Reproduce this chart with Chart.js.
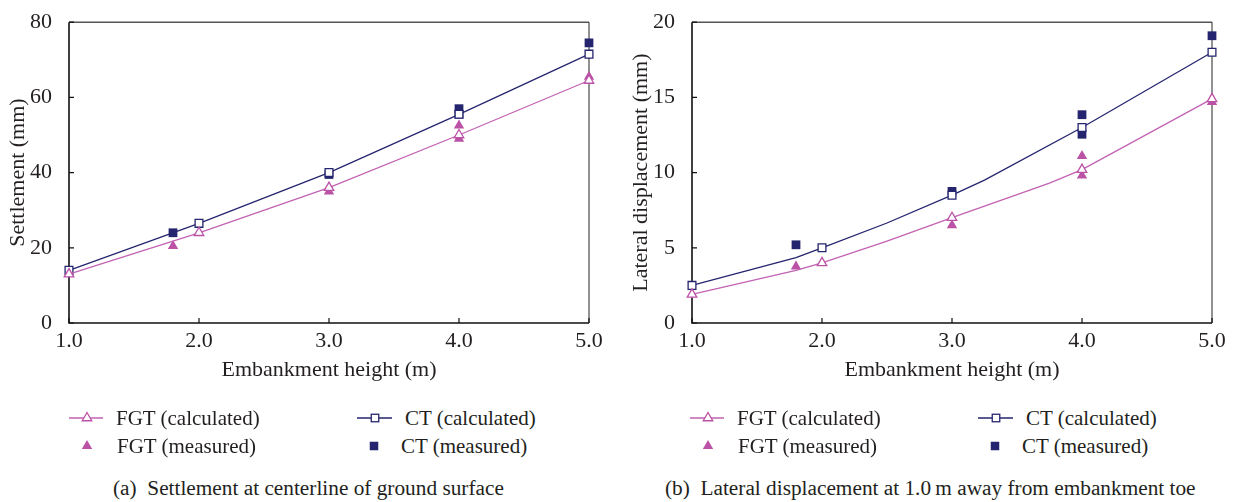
<!DOCTYPE html>
<html>
<head>
<meta charset="utf-8">
<script src="https://cdn.jsdelivr.net/npm/chart.js@4.4.1/dist/chart.umd.min.js"></script>
<style>
    body { margin: 0; background: #fff; width: 1236px; height: 502px; position: relative; overflow: hidden;
           font-family: "Liberation Serif", "Times New Roman", Tinos, "Noto Serif", "DejaVu Serif", serif; color: #231f20; }
    canvas { position: absolute; top: 0; }
    .lg { position: absolute; font-size: 21px; line-height: 24px; white-space: nowrap; }
    .cap { position: absolute; font-size: 21.3px; line-height: 24px; white-space: nowrap; }
    svg { position: absolute; overflow: visible; }
</style>
</head>
<body>
<canvas id="chartA" width="618" height="395" style="left:0"></canvas>
<canvas id="chartB" width="618" height="395" style="left:618px"></canvas>

<script>
// Embankment heights with calculated markers / x ticks
const heightTicks = [1.0, 2.0, 3.0, 4.0, 5.0];

// (a) Settlement at centerline (mm)
const setFgtCalcX = [1.0, 2.0, 3.0, 4.0, 5.0];
const setFgtCalcY = [13.0, 24.0, 36.0, 50.0, 64.5];
const setCtCalcX = [1.0, 2.0, 3.0, 4.0, 5.0];
const setCtCalcY = [14.0, 26.5, 40.0, 55.5, 71.5];
const setFgtMeasX = [1.8, 3.0, 4.0, 4.0, 5.0];
const setFgtMeasY = [20.5, 35.0, 52.5, 49.0, 65.5];
const setCtMeasX = [1.8, 3.0, 4.0, 4.0, 5.0];
const setCtMeasY = [24.0, 39.5, 57.0, 55.5, 74.5];
const setTicks = [0, 20, 40, 60, 80];

// (b) Lateral displacement 1.0 m from toe (mm)
const latFgtCalcX = [1.0, 1.8, 2.0, 2.5, 3.0, 3.75, 4.0, 5.0];
const latFgtCalcY = [1.9, 3.5, 4.0, 5.45, 7.0, 9.3, 10.2, 14.9];
const latCtCalcX = [1.0, 1.8, 2.0, 2.5, 3.0, 3.25, 4.0, 5.0];
const latCtCalcY = [2.5, 4.35, 5.0, 6.65, 8.5, 9.5, 13.0, 18.0];
const latFgtMeasX = [1.8, 3.0, 4.0, 4.0, 5.0];
const latFgtMeasY = [3.75, 6.5, 11.1, 9.8, 14.7];
const latCtMeasX = [1.8, 3.0, 4.0, 4.0, 5.0];
const latCtMeasY = [5.2, 8.75, 13.85, 12.55, 19.1];
const latTicks = [0, 5, 10, 15, 20];

const FGT = '#bb52a6';
const FGT_LINE = '#c262b3';
const CT = '#25256f';
const TXT = '#231f20';
const FONT = '"Liberation Serif", "Times New Roman", Tinos, "Noto Serif", "DejaVu Serif", serif';

function pts(xs, ys) {
    return xs.map((x, i) => ({x: x, y: ys[i]}));
}

// frame, inward ticks
const framePlugin = {
    id: 'frame',
    beforeDatasetsDraw(chart) {
        const {ctx, chartArea: a, scales} = chart;
        ctx.save();
        ctx.strokeStyle = '#555';
        ctx.lineWidth = 1.6;
        ctx.beginPath();
        ctx.moveTo(a.left, a.top);
        ctx.lineTo(a.right, a.top);
        ctx.stroke();
        ctx.strokeStyle = '#222';
        ctx.lineWidth = 1;
        ctx.beginPath();
        ctx.moveTo(a.right, a.top);
        ctx.lineTo(a.right, a.bottom);
        ctx.stroke();
        ctx.strokeStyle = '#111';
        ctx.lineWidth = 1.6;
        ctx.beginPath();
        ctx.moveTo(a.left, a.top);
        ctx.lineTo(a.left, a.bottom);
        ctx.lineTo(a.right, a.bottom);
        ctx.stroke();
        ctx.lineWidth = 1.2;
        ctx.beginPath();
        for (const t of scales.x.ticks) {
            const px = scales.x.getPixelForValue(t.value);
            ctx.moveTo(px, a.bottom);
            ctx.lineTo(px, a.bottom - 5);
        }
        for (const t of scales.y.ticks) {
            const py = scales.y.getPixelForValue(t.value);
            ctx.moveTo(a.left, py);
            ctx.lineTo(a.left + 5, py);
        }
        ctx.stroke();
        ctx.restore();
    }
};

function makeChart(id, d, yTicks, yTitle, box) {
    const calcRadius = c => heightTicks.includes(c.raw.x) ? 5.5 : 0;
    return new Chart(document.getElementById(id), {
        type: 'scatter',
        data: {
            datasets: [
                {data: pts(d.fgtCalcX, d.fgtCalcY), showLine: true, borderColor: FGT_LINE, borderWidth: 1.3,
                    pointStyle: 'triangle', pointRadius: calcRadius, pointBorderColor: FGT, pointBackgroundColor: '#fff',
                    pointBorderWidth: 1.3, clip: false},
                {data: pts(d.ctCalcX, d.ctCalcY), showLine: true, borderColor: CT, borderWidth: 1.3,
                    pointStyle: 'rect', pointRadius: calcRadius, pointBorderColor: CT, pointBackgroundColor: '#fff',
                    pointBorderWidth: 1.3, clip: false},
                {data: pts(d.fgtMeasX, d.fgtMeasY), showLine: false, pointStyle: 'triangle', pointRadius: 6,
                    pointBorderWidth: 0, pointBackgroundColor: FGT, clip: false},
                {data: pts(d.ctMeasX, d.ctMeasY), showLine: false, pointStyle: 'rect', pointRadius: 6.2,
                    pointBorderWidth: 0, pointBackgroundColor: CT, clip: false}
            ]
        },
        options: {
            responsive: false,
            animation: false,
            layout: {autoPadding: false, padding: {left: 0, right: box.right, top: box.top, bottom: 0}},
            plugins: {legend: {display: false}, tooltip: {enabled: false}},
            scales: {
                x: {
                    type: 'linear', min: 1, max: 5,
                    afterBuildTicks: s => { s.ticks = heightTicks.map(v => ({value: v})); },
                    afterFit: s => { s.height = box.xh; },
                    grid: {display: false}, border: {display: false},
                    ticks: {color: TXT, padding: -3, font: {family: FONT, size: 22}, callback: v => v.toFixed(1)},
                    title: {display: true, text: 'Embankment height (m)', color: TXT,
                        font: {family: FONT, size: 22}, padding: {top: 0, bottom: 12}}
                },
                y: {
                    min: yTicks[0], max: yTicks[yTicks.length - 1],
                    afterBuildTicks: s => { s.ticks = yTicks.map(v => ({value: v})); },
                    afterFit: s => { s.width = box.yw; },
                    grid: {display: false}, border: {display: false},
                    ticks: {color: TXT, padding: 9, font: {family: FONT, size: 22}},
                    title: {display: true, text: yTitle, color: TXT,
                        font: {family: FONT, size: 22}, padding: {top: box.tp, bottom: 0}}
                }
            }
        },
        plugins: [framePlugin]
    });
}

makeChart('chartA', {
    fgtCalcX: setFgtCalcX, fgtCalcY: setFgtCalcY, ctCalcX: setCtCalcX, ctCalcY: setCtCalcY,
    fgtMeasX: setFgtMeasX, fgtMeasY: setFgtMeasY, ctMeasX: setCtMeasX, ctMeasY: setCtMeasY
}, setTicks, 'Settlement (mm)', {right: 29, top: 12, xh: 72, yw: 69, tp: 5});

makeChart('chartB', {
    fgtCalcX: latFgtCalcX, fgtCalcY: latFgtCalcY, ctCalcX: latCtCalcX, ctCalcY: latCtCalcY,
    fgtMeasX: latFgtMeasX, fgtMeasY: latFgtMeasY, ctMeasX: latCtMeasX, ctMeasY: latCtMeasY
}, latTicks, 'Lateral displacement (mm)', {right: 24, top: 16, xh: 72, yw: 74, tp: 10});

// legend symbols and texts (html)
function tri(cx, cy, r, fill, stroke) {
    const p = [[cx, cy - r], [cx - r * 0.866, cy + r * 0.5], [cx + r * 0.866, cy + r * 0.5]];
    return '<polygon points="' + p.map(q => q.join(',')).join(' ') + '" fill="' + fill + '" stroke="' + stroke + '" stroke-width="1.3"/>';
}
function sq(cx, cy, s, fill, stroke) {
    return '<rect x="' + (cx - s / 2) + '" y="' + (cy - s / 2) + '" width="' + s + '" height="' + s +
        '" fill="' + fill + '" stroke="' + stroke + '" stroke-width="1.3"/>';
}
function addLegend(x0) {
    const svg = '<svg width="1" height="1" style="left:0;top:0">' +
        '<line x1="' + (x0 + 69) + '" y1="418" x2="' + (x0 + 103) + '" y2="418" stroke="' + FGT_LINE + '" stroke-width="1.5"/>' +
        tri(x0 + 87, 418, 5.5, '#fff', FGT) +
        tri(x0 + 87, 446, 6, FGT, 'none') +
        '<line x1="' + (x0 + 357) + '" y1="418" x2="' + (x0 + 392) + '" y2="418" stroke="' + CT + '" stroke-width="1.5"/>' +
        sq(x0 + 375, 418, 7.5, '#fff', CT) +
        sq(x0 + 374, 446, 8.5, CT, 'none') +
        '</svg>';
    document.body.insertAdjacentHTML('beforeend', svg);
    const items = [
        ['FGT (calculated)', x0 + 116, 406],
        ['FGT (measured)', x0 + 117, 434],
        ['CT (calculated)', x0 + 405, 406],
        ['CT (measured)', x0 + 401, 434]
    ];
    for (const it of items) {
        const el = document.createElement('div');
        el.className = 'lg';
        el.textContent = it[0];
        el.style.left = it[1] + 'px';
        el.style.top = it[2] + 'px';
        document.body.appendChild(el);
    }
}
addLegend(0);
addLegend(621);

function addCaption(text, left) {
    const el = document.createElement('div');
    el.className = 'cap';
    el.innerHTML = text;
    el.style.left = left + 'px';
    el.style.top = '476px';
    document.body.appendChild(el);
}
addCaption('(a)&nbsp; Settlement at centerline of ground surface', 113);
addCaption('(b)&nbsp; Lateral displacement at 1.0&#8201;m away from embankment toe', 665);
</script>
</body>
</html>
